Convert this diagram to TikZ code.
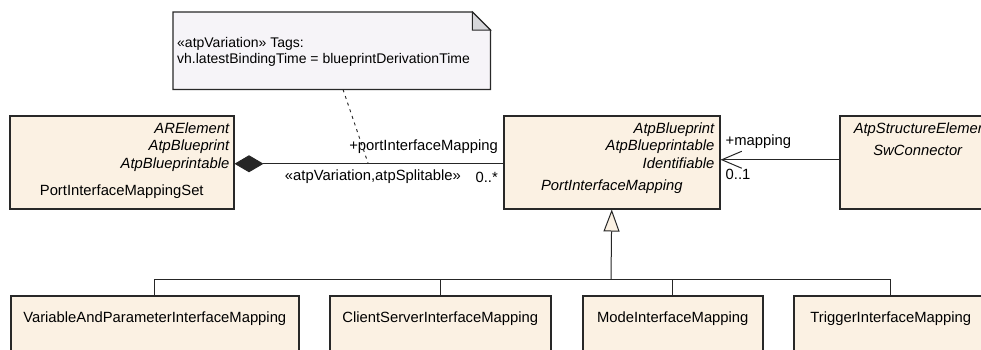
\documentclass[tikz,border=0pt]{standalone}
\usepackage{fontspec}
\setmainfont{Liberation Sans}
\usetikzlibrary{arrows.meta,calc}
\definecolor{boxfill}{RGB}{251,241,227}
\definecolor{notefill}{RGB}{246,244,248}
\definecolor{foldfill}{RGB}{214,214,218}
\definecolor{edgecol}{RGB}{40,40,40}
\begin{document}
\begin{tikzpicture}[x=1pt,y=-1pt,
  cls/.style={draw=edgecol, line width=1.5pt, fill=boxfill, anchor=north west, inner sep=0pt},
  txt/.style={inner sep=0pt, font=\fontsize{14.8}{17}\selectfont},
  itx/.style={inner sep=0pt, font=\fontsize{14.8}{17}\selectfont\itshape},
  lbl/.style={inner sep=0pt, font=\fontsize{14.8}{17}\selectfont},
  notetxt/.style={inner sep=0pt, anchor=base west, font=\fontsize{14}{15}\selectfont},
  conn/.style={draw=black!85, line width=1pt},
]
\useasboundingbox (0,0) rectangle (981,349);
\clip (0,0) rectangle (981,349);

% note
\node[anchor=north west, minimum width=317pt, minimum height=77pt, inner sep=0pt] (note) at (173,12) {};
\filldraw[fill=notefill, draw=edgecol, line width=1.2pt]
  (note.north west) -- ($(note.north east)+(-18,0)$) -- ($(note.north east)+(0,18)$)
  -- (note.south east) -- (note.south west) -- cycle;
\filldraw[fill=foldfill, draw=edgecol, line width=1pt]
  ($(note.north east)+(-18,0)$) -- ($(note.north east)+(-18,18)$) -- ($(note.north east)+(0,18)$) -- cycle;
\node[notetxt] (note1) at ($(note.north west)+(4,35)$) {«atpVariation» Tags:};
\node[notetxt] (note2) at ($(note.north west)+(4,51)$) {vh.latestBindingTime = blueprintDerivationTime};

% classes
\node[cls, minimum width=224pt, minimum height=93pt] (set) at (9,115) {};
\node[itx, anchor=base east] (set1) at ($(set.north east)+(-5,18)$) {ARElement};
\node[itx, anchor=base east] (set2) at ($(set.north east)+(-5,35)$) {AtpBlueprint};
\node[itx, anchor=base east] (set3) at ($(set.north east)+(-5,53)$) {AtpBlueprintable};
\node[txt, anchor=base] (setn) at ($(set.north)+(0,80)$) {PortInterfaceMappingSet};

\node[cls, minimum width=216pt, minimum height=93pt] (pim) at (503,115) {};
\node[itx, anchor=base east] (pim1) at ($(pim.north east)+(-6,18)$) {AtpBlueprint};
\node[itx, anchor=base east] (pim2) at ($(pim.north east)+(-6,35)$) {AtpBlueprintable};
\node[itx, anchor=base east] (pim3) at ($(pim.north east)+(-6,53)$) {Identifiable};
\node[itx, anchor=base] (pimn) at ($(pim.north)+(0,75)$) {PortInterfaceMapping};

\node[cls, minimum width=156pt, minimum height=93pt] (swc) at (839,115) {};
\node[itx, anchor=base east] (swc1) at ($(swc.north east)+(-6,18)$) {AtpStructureElement};
\node[itx, anchor=base] (swcn) at ($(swc.north)+(0,40)$) {SwConnector};

\node[cls, minimum width=288pt, minimum height=70pt] (vap) at (10,295) {};
\node[txt, anchor=base] (vapn) at ($(vap.north)+(0,27)$) {VariableAndParameterInterfaceMapping};
\node[cls, minimum width=221pt, minimum height=70pt] (csm) at (329,295) {};
\node[txt, anchor=base] (csmn) at ($(csm.north)+(0,27)$) {ClientServerInterfaceMapping};
\node[cls, minimum width=180pt, minimum height=70pt] (mim) at (582,295) {};
\node[txt, anchor=base] (mimn) at ($(mim.north)+(0,27)$) {ModeInterfaceMapping};
\node[cls, minimum width=194pt, minimum height=70pt] (tim) at (793,295) {};
\node[txt, anchor=base] (timn) at ($(tim.north)+(0,27)$) {TriggerInterfaceMapping};

% composition
\draw[conn, {Diamond[length=29pt,width=17pt]}-] ($(set.east)+(0,1.5)$) -- ($(pim.west)+(0,1.5)$);
\node[lbl, anchor=base east] (l1) at ($(pim.west)+(-5,-11.5)$) {+portInterfaceMapping};
\node[lbl, anchor=base east] (l2) at ($(pim.west)+(-42,18.5)$) {«atpVariation,atpSplitable»};
\node[lbl, anchor=base east] (l3) at ($(pim.west)+(-5,20.5)$) {0..*};
\coordinate (anch) at (368,163);
\draw[conn, line width=0.9pt, dash pattern=on 3pt off 4pt] ($(note.south west)+(170,0)$) -- (anch);

% mapping association
\draw[conn, -{Straight Barb[length=20pt,width=17pt]}] ($(swc.west)+(0,-2.5)$) -- ($(pim.east)+(0,-2.5)$);
\node[lbl, anchor=base west] (l4) at ($(pim.east)+(5,-16.5)$) {+mapping};
\node[lbl, anchor=base west] (l5) at ($(pim.east)+(5,17.5)$) {0..1};

% generalization
\coordinate (bus) at (611,279);
\draw[conn, -{Triangle[length=22pt,width=16pt,fill=boxfill]}] (bus) -- (pim.south);
\draw[conn] (vap.north) |- (bus);
\draw[conn] (csm.north) |- (bus);
\draw[conn] (mim.north) |- (bus);
\draw[conn] (tim.north) |- (bus);
\end{tikzpicture}
\end{document}
